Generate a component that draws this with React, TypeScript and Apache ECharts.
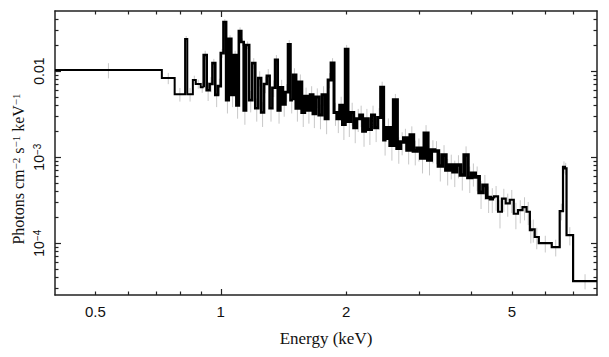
import React, { useEffect, useRef } from 'react';
import * as echarts from 'echarts';

// Bin edges (keV) of the grouped spectrum
const binEdges = [
  0.400, 0.722, 0.775, 0.821, 0.831, 0.857, 0.871, 0.895, 0.910,
  0.925, 0.940, 0.955, 0.970, 0.985, 1.000, 1.015, 1.030, 1.045, 1.060, 1.075, 1.090, 1.105, 1.120, 1.135, 1.150,
  1.170, 1.190, 1.210, 1.230, 1.250, 1.270, 1.290, 1.310, 1.330, 1.350, 1.370, 1.390, 1.410, 1.430, 1.450, 1.470, 1.490,
  1.515, 1.540, 1.565, 1.590, 1.615, 1.640, 1.665, 1.690,
  1.720, 1.750, 1.780, 1.810, 1.840, 1.870, 1.900, 1.930, 1.960, 1.990, 2.020, 2.050,
  2.085, 2.120, 2.155, 2.190, 2.225, 2.260,
  2.300, 2.340, 2.380, 2.420, 2.460, 2.500,
  2.550, 2.600, 2.650, 2.700, 2.750, 2.800, 2.850, 2.900,
  2.960, 3.020, 3.080, 3.140, 3.200, 3.260,
  3.330, 3.400, 3.470, 3.540, 3.610, 3.680,
  3.760, 3.840, 3.920, 4.000, 4.080,
  4.170, 4.260, 4.350, 4.440, 4.530,
  4.630, 4.730, 4.830,
  4.940, 5.050,
  5.170, 5.300, 5.420, 5.520, 5.580, 5.670, 5.800, 6.230, 6.510, 6.630, 6.700, 6.760, 7.010, 8.000,
];

// Photons cm^-2 s^-1 keV^-1 per bin
const flux = [
  0.0103, 0.0083, 0.0054, 0.0237, 0.0054, 0.0079, 0.0071, 0.0065,
  0.0154, 0.0060, 0.0071, 0.0124, 0.0053, 0.0067, 0.0162, 0.0372, 0.0046, 0.0237,
  0.0053, 0.0154, 0.0040, 0.0293, 0.0218, 0.0035, 0.0201, 0.0046, 0.0124, 0.0037,
  0.0083, 0.0033, 0.0071, 0.0088, 0.0037, 0.0064, 0.0135, 0.0035, 0.0065, 0.0041,
  0.0057, 0.0205, 0.0046, 0.0090, 0.0037, 0.0075, 0.0033, 0.0051, 0.0035, 0.0053,
  0.0032, 0.0050, 0.0031, 0.0053, 0.0028, 0.0079, 0.0124, 0.0033, 0.0028, 0.0040,
  0.0024, 0.0180, 0.0026, 0.0033, 0.0022, 0.0028, 0.0031, 0.0020, 0.0028, 0.0021,
  0.0031, 0.0022, 0.0029, 0.0065, 0.00158, 0.0022, 0.00138, 0.0046, 0.00127, 0.00150,
  0.00167, 0.00121, 0.00181, 0.00118, 0.00127, 0.00098, 0.00190, 0.00093, 0.00121, 0.00118,
  0.00079, 0.00106, 0.00071, 0.00081, 0.00068, 0.00081, 0.00062, 0.00106, 0.00058, 0.00065,
  0.00059, 0.00039, 0.00047, 0.00034, 0.00033, 0.00035, 0.000232, 0.00033, 0.00029, 0.00032,
  0.00022, 0.000243, 0.000263, 0.000232, 0.000142, 0.000145, 0.000118, 0.000100, 0.000090, 0.000236,
  0.00077, 0.00074, 0.000124, 0.0000363,
];

// Relative 1-sigma error of each bin
const errFrac = [
  0.2, 0.15, 0.18, 0.08, 0.18, 0.12, 0.12, 0.14,
  0.12, 0.25, 0.2, 0.12, 0.28, 0.22, 0.12, 0.08, 0.3, 0.1,
  0.28, 0.12, 0.3, 0.1, 0.1, 0.32, 0.1, 0.28, 0.14, 0.3,
  0.2, 0.32, 0.22, 0.2, 0.3, 0.22, 0.14, 0.3, 0.22, 0.28,
  0.24, 0.12, 0.3, 0.2, 0.3, 0.22, 0.32, 0.26, 0.3, 0.26,
  0.32, 0.26, 0.32, 0.26, 0.34, 0.2, 0.14, 0.3, 0.32, 0.26,
  0.34, 0.12, 0.34, 0.3, 0.34, 0.3, 0.28, 0.34, 0.3, 0.34,
  0.28, 0.32, 0.28, 0.16, 0.34, 0.28, 0.34, 0.18, 0.34, 0.3,
  0.28, 0.32, 0.26, 0.32, 0.3, 0.34, 0.24, 0.34, 0.3, 0.3,
  0.34, 0.3, 0.34, 0.32, 0.34, 0.3, 0.34, 0.26, 0.34, 0.3,
  0.32, 0.36, 0.32, 0.34, 0.32, 0.32, 0.36, 0.3, 0.3, 0.3,
  0.34, 0.3, 0.3, 0.3, 0.3, 0.3, 0.28, 0.22, 0.22, 0.22,
  0.16, 0.16, 0.24, 0.2,
];

// Line-width zones (keV boundaries) where crowded bins merge into a solid band
const zoneBounds = [0.4, 0.91, 1.49, 2.5, 4.53, 8.0];
const zoneWidths = [2, 2.6, 3, 3.6, 2.2];

const xRange = [0.4, 8];
const yRange = [2.5e-5, 0.05];
const xMajorTicks = [1];
const xMinorTicks = [0.5, 0.6, 0.7, 0.8, 0.9, 2, 3, 4, 5, 6, 7];
const xTickLabels = [0.5, 1, 2, 5];
const yMajorTicks = [1e-4, 1e-3, 1e-2];
const yMinorTicks = [
  3e-5, 4e-5, 5e-5, 6e-5, 7e-5, 8e-5, 9e-5,
  2e-4, 3e-4, 4e-4, 5e-4, 6e-4, 7e-4, 8e-4, 9e-4,
  2e-3, 3e-3, 4e-3, 5e-3, 6e-3, 7e-3, 8e-3, 9e-3,
  0.02, 0.03, 0.04,
];
const yTickLabels = [1e-4, 1e-3, 1e-2];

const frameColor = '#222';
const sans = 'Liberation Sans, Arial, Helvetica, sans-serif';
const serif = 'Liberation Serif, Times New Roman, serif';

function xAxisDef(position: string, ticks: number[], len: number, showLine: boolean, labels: boolean) {
  return {
    type: 'log',
    logBase: 10,
    min: xRange[0],
    max: xRange[1],
    position,
    axisLine: { show: showLine, onZero: false, lineStyle: { color: frameColor, width: 1.5 } },
    axisTick: { show: true, inside: true, length: len, customValues: ticks, lineStyle: { color: frameColor, width: 1.2 } },
    axisLabel: labels
      ? {
          show: true,
          customValues: xTickLabels,
          formatter: (v: number) => String(v),
          color: '#111',
          fontFamily: sans,
          fontSize: 15,
          margin: 9,
        }
      : { show: false },
    splitLine: { show: false },
    minorTick: { show: false },
    minorSplitLine: { show: false },
  };
}

function yAxisDef(position: string, ticks: number[], len: number, showLine: boolean, labels: boolean) {
  return {
    type: 'log',
    logBase: 10,
    min: yRange[0],
    max: yRange[1],
    position,
    axisLine: { show: showLine, onZero: false, lineStyle: { color: frameColor, width: 1.5 } },
    axisTick: { show: true, inside: true, length: len, customValues: ticks, lineStyle: { color: frameColor, width: 1.2 } },
    axisLabel: labels
      ? {
          show: true,
          customValues: yTickLabels,
          rotate: 90,
          margin: 9,
          color: '#111',
          fontFamily: sans,
          fontSize: 14,
          formatter: (v: number) => {
            const e = Math.round(Math.log10(v));
            if (e >= -2) return '{b|0.01}';
            return '{b|10}{s|\u2212' + String(-e) + '}';
          },
          rich: {
            b: { fontFamily: sans, fontSize: 14, color: '#111' },
            s: { fontFamily: sans, fontSize: 10, color: '#111', verticalAlign: 'top' },
          },
        }
      : { show: false },
    splitLine: { show: false },
    minorTick: { show: false },
    minorSplitLine: { show: false },
  };
}

// Step points for bins [from, to), starting with the vertical joining the previous bin
function stepPoints(from: number, to: number): number[][] {
  const pts: number[][] = [];
  if (from > 0) pts.push([binEdges[from], flux[from - 1]]);
  for (let i = from; i < to; i++) pts.push([binEdges[i], flux[i]]);
  pts.push([binEdges[to], flux[to - 1]]);
  return pts;
}

function edgeIndex(e: number): number {
  let best = 0;
  for (let i = 0; i < binEdges.length; i++) {
    if (Math.abs(binEdges[i] - e) < Math.abs(binEdges[best] - e)) best = i;
  }
  return best;
}

export default function App() {
  const ref = useRef<HTMLDivElement>(null);

  useEffect(() => {
    if (!ref.current) return;
    const chart = echarts.init(ref.current, null, { renderer: 'svg' });

    const n = flux.length;

    const errData: number[][] = [];
    for (let i = 0; i < n; i++) {
      const c = Math.sqrt(binEdges[i] * binEdges[i + 1]);
      const fr = errFrac[i];
      errData.push([c, flux[i] * (1 - fr), flux[i] * (1 + fr)]);
    }

    const stepSeries: any[] = [];
    for (let z = 0; z < zoneWidths.length; z++) {
      const from = edgeIndex(zoneBounds[z]);
      const to = z === zoneWidths.length - 1 ? n : edgeIndex(zoneBounds[z + 1]);
      stepSeries.push({
        type: 'line',
        xAxisIndex: 0,
        yAxisIndex: 0,
        step: 'end',
        data: stepPoints(from, to),
        showSymbol: false,
        symbol: 'none',
        silent: true,
        z: 2,
        lineStyle: { color: '#000', width: zoneWidths[z], join: 'miter' },
      });
    }

    const option: any = {
      animation: false,
      backgroundColor: '#fff',
      grid: { left: 55, right: 12, top: 11, bottom: 62, containLabel: false, outerBoundsMode: 'none' },
      xAxis: [
        {
          ...xAxisDef('bottom', xMajorTicks, 6, true, true),
          name: 'Energy (keV)',
          nameLocation: 'middle',
          nameGap: 35,
          nameTextStyle: { fontFamily: serif, fontSize: 17, color: '#111' },
        },
        xAxisDef('bottom', xMinorTicks, 3.5, false, false),
        xAxisDef('top', xMajorTicks, 6, true, false),
        xAxisDef('top', xMinorTicks, 3.5, false, false),
      ],
      yAxis: [
        yAxisDef('left', yMajorTicks, 6, true, true),
        yAxisDef('left', yMinorTicks, 3.5, false, false),
        yAxisDef('right', yMajorTicks, 6, true, false),
        yAxisDef('right', yMinorTicks, 3.5, false, false),
      ],
      graphic: [
        {
          type: 'text',
          x: 18,
          y: 169,
          rotation: Math.PI / 2,
          style: {
            text: 'Photons cm{s|\u22122} s{s|\u22121} keV{s|\u22121}',
            align: 'center',
            verticalAlign: 'middle',
            fontFamily: serif,
            fontSize: 16,
            fill: '#111',
            rich: {
              s: { fontFamily: serif, fontSize: 11, fill: '#111', verticalAlign: 'top' },
            },
          },
        },
      ],
      series: [
        {
          type: 'custom',
          xAxisIndex: 0,
          yAxisIndex: 0,
          data: errData,
          encode: { x: 0, y: [1, 2] },
          clip: true,
          silent: true,
          z: 1,
          renderItem: (_params: any, api: any) => {
            const x = api.value(0);
            const p1 = api.coord([x, api.value(1)]);
            const p2 = api.coord([x, api.value(2)]);
            return {
              type: 'line',
              shape: { x1: p1[0], y1: p1[1], x2: p2[0], y2: p2[1] },
              style: { stroke: '#c8c8c8', lineWidth: 1 },
            };
          },
        },
        ...stepSeries,
      ],
    };

    chart.setOption(option);
    return () => chart.dispose();
  }, []);

  return <div ref={ref} style={{ position: 'fixed', left: 0, top: 0, width: 609, height: 357 }} />;
}
